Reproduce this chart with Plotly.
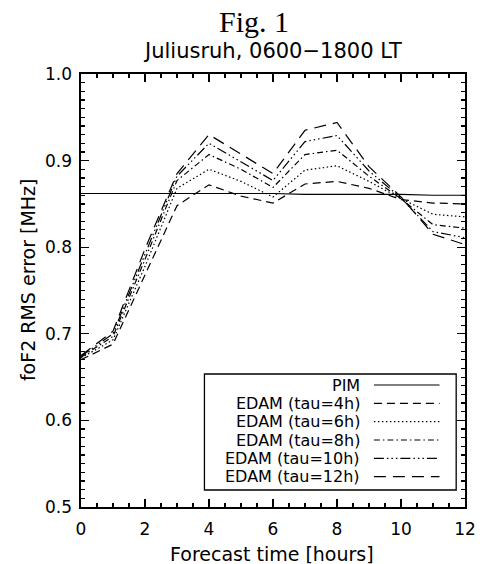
import plotly.graph_objects as go

# ---------------- data ----------------
hours = [0, 1, 2, 3, 4, 5, 6, 7, 8, 9, 10, 11, 12]
pim = [0.862, 0.862, 0.862, 0.862, 0.862, 0.862, 0.862, 0.861, 0.861, 0.861, 0.861, 0.860, 0.860]
edam_4h = [0.670, 0.688, 0.768, 0.848, 0.872, 0.859, 0.851, 0.873, 0.876, 0.868, 0.855, 0.851, 0.850]
edam_6h = [0.672, 0.693, 0.778, 0.868, 0.890, 0.876, 0.858, 0.889, 0.894, 0.876, 0.856, 0.838, 0.835]
edam_8h = [0.673, 0.697, 0.786, 0.877, 0.907, 0.890, 0.869, 0.907, 0.912, 0.882, 0.856, 0.826, 0.822]
edam_10h = [0.674, 0.700, 0.792, 0.882, 0.920, 0.899, 0.877, 0.922, 0.929, 0.888, 0.857, 0.818, 0.811]
edam_12h = [0.675, 0.703, 0.798, 0.885, 0.930, 0.908, 0.885, 0.935, 0.944, 0.893, 0.858, 0.815, 0.803]

series_names = ["PIM", "EDAM (tau=4h)", "EDAM (tau=6h)", "EDAM (tau=8h)",
                "EDAM (tau=10h)", "EDAM (tau=12h)"]
series_values = [pim, edam_4h, edam_6h, edam_8h, edam_10h, edam_12h]

x_ticks = [0, 2, 4, 6, 8, 10, 12]
y_ticks = [0.5, 0.6, 0.7, 0.8, 0.9, 1.0]
y_tick_labels = ["0.5", "0.6", "0.7", "0.8", "0.9", "1.0"]

fig_label = "Fig. 1"
title_text = "Juliusruh, 0600\u22121800 LT"
x_title = "Forecast time [hours]"
y_title = "foF2 RMS error [MHz]"

# ---------------- styles ----------------
dashes = ["solid", "8px,5px", "1.5px,2.5px", "6px,3px,1.5px,3px",
          "10px,3px,1.5px,3px,1.5px,3px,1.5px,3px", "12px,7px"]
LW = 1.2
SANS = "DejaVu Sans"

# figure fills the whole window (page margin removed in post_script)
W, H = 488, 564
# plot area in page pixels: x 81..473, y 74..507
PX0, PX1, PY0, PY1 = 81, 473, 74, 507
ML, MR, MT, MB = PX0, W - PX1, PY0, H - PY1
PW, PH = PX1 - PX0, PY1 - PY0


def xp(px):
    return (px - PX0) / PW


def yp(py):
    return (PY1 - py) / PH


fig = go.Figure()
for name, vals, dash in zip(series_names, series_values, dashes):
    fig.add_trace(go.Scatter(x=hours, y=vals, mode="lines", name=name,
                             line=dict(color="black", width=LW, dash=dash),
                             showlegend=False, hoverinfo="skip"))

axis_common = dict(showline=True, linecolor="black", linewidth=1.6, mirror="ticks",
                   ticks="inside", ticklen=8, tickwidth=1.2, tickcolor="black",
                   showgrid=False, zeroline=False,
                   tickfont=dict(family=SANS, size=17, color="black"))

fig.update_xaxes(range=[0, 12], tickvals=x_ticks, ticktext=[str(v) for v in x_ticks],
                 minor=dict(ticks="inside", ticklen=4, dtick=0.5, tickwidth=1.2,
                            tickcolor="black", showgrid=False),
                 ticklabelstandoff=6, **axis_common)
fig.update_yaxes(range=[0.5, 1.0], tickvals=y_ticks, ticktext=y_tick_labels,
                 minor=dict(ticks="inside", ticklen=4, dtick=0.01, tickwidth=1.2,
                            tickcolor="black", showgrid=False),
                 ticklabelstandoff=4, **axis_common)

annotations = [
    dict(text=fig_label, x=xp(258), y=yp(21), xref="paper", yref="paper",
         showarrow=False, xanchor="center", yanchor="middle", borderpad=0,
         font=dict(family="Liberation Serif", size=30, color="black")),
    dict(text=title_text, x=xp(276), y=yp(51), xref="paper", yref="paper",
         showarrow=False, xanchor="center", yanchor="middle",
         font=dict(family=SANS, size=21, color="black")),
    dict(text=x_title, x=xp(276), y=yp(554), xref="paper", yref="paper",
         showarrow=False, xanchor="center", yanchor="middle", borderpad=0,
         font=dict(family=SANS, size=19, color="black")),
    dict(text=y_title, x=xp(27), y=yp(280), xref="paper", yref="paper",
         showarrow=False, xanchor="center", yanchor="middle", textangle=-90,
         font=dict(family=SANS, size=19, color="black")),
]

# custom legend (text left, line sample right), like the original
shapes = [dict(type="rect", xref="paper", yref="paper",
               x0=xp(207), x1=xp(464), y0=yp(490), y1=yp(374),
               line=dict(color="black", width=1.3), fillcolor="white", layer="above")]
row_y = [385, 403.3, 421.7, 440, 458.3, 476.7]
for name, dash, ry in zip(series_names, dashes, row_y):
    annotations.append(dict(text=name, x=xp(367), y=yp(ry), xref="paper", yref="paper",
                            showarrow=False, xanchor="right", yanchor="middle",
                            borderpad=0,
                            font=dict(family=SANS, size=16, color="black")))
    shapes.append(dict(type="line", xref="paper", yref="paper",
                       x0=xp(380), x1=xp(447), y0=yp(ry), y1=yp(ry),
                       line=dict(color="black", width=LW, dash=dash), layer="above"))

fig.update_layout(width=W, height=H, margin=dict(l=ML, r=MR, t=MT, b=MB),
                  paper_bgcolor="white", plot_bgcolor="white", hovermode=False,
                  annotations=annotations, shapes=shapes, showlegend=False)

fig.write_html("out.html",
               config={"displayModeBar": False, "staticPlot": True},
               post_script="document.body.style.margin='0';document.body.style.overflow='hidden';")
